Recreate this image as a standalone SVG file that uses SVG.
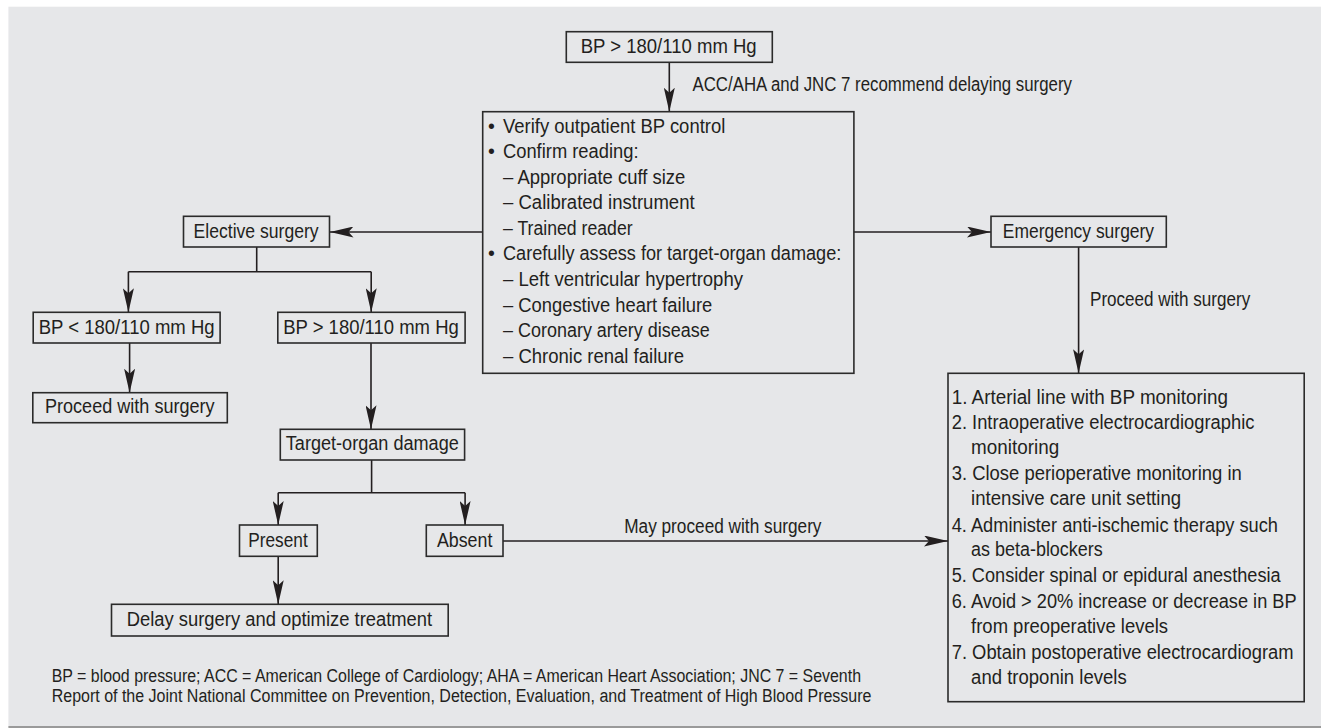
<svg xmlns="http://www.w3.org/2000/svg" width="1321" height="728" viewBox="0 0 1321 728">
<style>
.bg{fill:#e6e7e9}
.box{fill:none;stroke:#2b2b2b;stroke-width:1.6}
.ln{fill:none;stroke:#231f20;stroke-width:1.6}
.arr{fill:none;stroke:#231f20;stroke-width:1.6;marker-end:url(#ah)}
text{font-family:"Liberation Sans",Arial,sans-serif;font-size:19.5px;fill:#231f20}
.fn{font-size:18px}
</style>
<defs>
<marker id="ah" viewBox="0 0 24 11" markerWidth="24" markerHeight="11" refX="24" refY="5.5" orient="auto" markerUnits="userSpaceOnUse">
<path d="M0,0 L24,5.5 L0,11 L5,5.5 z" fill="#231f20"/>
</marker>
</defs>
<rect x="0" y="0" width="1321" height="728" fill="#ffffff"/>
<rect class="bg" x="8.4" y="6.7" width="1312.6" height="719.8"/>
<line x1="8.4" y1="727" x2="1321" y2="727" stroke="#9a9a9a" stroke-width="2"/>

<g id="connectors">
<line class="arr" x1="669.3" y1="62" x2="669.3" y2="111.7"/>
<line class="arr" x1="482.7" y1="232" x2="329.5" y2="232"/>
<line class="arr" x1="853.9" y1="232" x2="991" y2="232"/>
<line class="arr" x1="1078.6" y1="247" x2="1078.6" y2="373.3"/>
<polyline class="ln" points="256.7,247 256.7,271.7"/>
<polyline class="ln" points="128.4,271.7 371.2,271.7"/>
<line class="arr" x1="128.4" y1="271.7" x2="128.4" y2="312.3"/>
<line class="arr" x1="371.2" y1="271.7" x2="371.2" y2="312.3"/>
<line class="arr" x1="129.6" y1="343" x2="129.6" y2="392.7"/>
<line class="arr" x1="371" y1="343" x2="371" y2="429.3"/>
<polyline class="ln" points="371.6,460 371.6,492.7"/>
<polyline class="ln" points="278.2,492.7 465.1,492.7"/>
<line class="arr" x1="278.2" y1="492.7" x2="278.2" y2="525"/>
<line class="arr" x1="465.1" y1="492.7" x2="465.1" y2="525"/>
<line class="arr" x1="278.2" y1="556.3" x2="278.2" y2="604.3"/>
<line class="arr" x1="503" y1="541" x2="948" y2="541"/>
<text x="692.5" y="91" textLength="379.4" lengthAdjust="spacingAndGlyphs">ACC/AHA and JNC 7 recommend delaying surgery</text>
<text x="1090" y="306" textLength="160.2" lengthAdjust="spacingAndGlyphs">Proceed with surgery</text>
<text x="624.2" y="533.3" textLength="197.3" lengthAdjust="spacingAndGlyphs">May proceed with surgery</text>
</g>

<g id="n-top">
<rect class="box" x="566.3" y="31.7" width="206" height="30.6"/>
<text x="580.7" y="53.3" textLength="176" lengthAdjust="spacingAndGlyphs">BP &gt; 180/110 mm Hg</text>
</g>

<g id="n-main">
<rect class="box" x="482.7" y="111.7" width="371.2" height="261.6"/>
<text x="488" y="133.3">•</text>
<text x="503" y="133.3" textLength="222.3" lengthAdjust="spacingAndGlyphs">Verify outpatient BP control</text>
<text x="488" y="157.9">•</text>
<text x="503" y="157.9" textLength="135.5" lengthAdjust="spacingAndGlyphs">Confirm reading:</text>
<text x="503" y="183.5" textLength="182.3" lengthAdjust="spacingAndGlyphs">– Appropriate cuff size</text>
<text x="503" y="209.3" textLength="191.6" lengthAdjust="spacingAndGlyphs">– Calibrated instrument</text>
<text x="503" y="235" textLength="129.6" lengthAdjust="spacingAndGlyphs">– Trained reader</text>
<text x="488" y="260.3">•</text>
<text x="503" y="260.3" textLength="338.3" lengthAdjust="spacingAndGlyphs">Carefully assess for target-organ damage:</text>
<text x="503" y="286" textLength="240" lengthAdjust="spacingAndGlyphs">– Left ventricular hypertrophy</text>
<text x="503" y="311.7" textLength="209.3" lengthAdjust="spacingAndGlyphs">– Congestive heart failure</text>
<text x="503" y="337.3" textLength="206.7" lengthAdjust="spacingAndGlyphs">– Coronary artery disease</text>
<text x="503" y="362.9" textLength="181" lengthAdjust="spacingAndGlyphs">– Chronic renal failure</text>
</g>

<g id="n-elective">
<rect class="box" x="183.5" y="216.3" width="146" height="30.7"/>
<text x="193.6" y="238.3" textLength="125" lengthAdjust="spacingAndGlyphs">Elective surgery</text>
</g>

<g id="n-emergency">
<rect class="box" x="991" y="216.3" width="175.3" height="30.7"/>
<text x="1002.8" y="238.3" textLength="151.3" lengthAdjust="spacingAndGlyphs">Emergency surgery</text>
</g>

<g id="n-bplow">
<rect class="box" x="33.2" y="312.3" width="186.9" height="30.7"/>
<text x="38.7" y="333.5" textLength="175.9" lengthAdjust="spacingAndGlyphs">BP &lt; 180/110 mm Hg</text>
</g>

<g id="n-bphigh">
<rect class="box" x="277.8" y="312.3" width="187.3" height="30.7"/>
<text x="283.2" y="333.5" textLength="175.6" lengthAdjust="spacingAndGlyphs">BP &gt; 180/110 mm Hg</text>
</g>

<g id="n-proceed">
<rect class="box" x="32.8" y="392.7" width="194.5" height="30"/>
<text x="45" y="413" textLength="169.6" lengthAdjust="spacingAndGlyphs">Proceed with surgery</text>
</g>

<g id="n-target">
<rect class="box" x="280.3" y="429.3" width="184.3" height="30.7"/>
<text x="285.8" y="450.3" textLength="173" lengthAdjust="spacingAndGlyphs">Target-organ damage</text>
</g>

<g id="n-present">
<rect class="box" x="239.5" y="525" width="77.8" height="31.3"/>
<text x="248.3" y="546.9" textLength="59.4" lengthAdjust="spacingAndGlyphs">Present</text>
</g>

<g id="n-absent">
<rect class="box" x="426.3" y="525" width="76.7" height="31.3"/>
<text x="436.9" y="546.9" textLength="55.5" lengthAdjust="spacingAndGlyphs">Absent</text>
</g>

<g id="n-delay">
<rect class="box" x="111.5" y="604.3" width="336.7" height="31.7"/>
<text x="126.7" y="626.3" textLength="305.5" lengthAdjust="spacingAndGlyphs">Delay surgery and optimize treatment</text>
</g>

<g id="n-steps">
<rect class="box" x="948" y="373.3" width="356.2" height="328.4"/>
<text x="951.7" y="403.5" textLength="276.2" lengthAdjust="spacingAndGlyphs">1. Arterial line with BP monitoring</text>
<text x="951.7" y="429.2" textLength="302.7" lengthAdjust="spacingAndGlyphs">2. Intraoperative electrocardiographic</text>
<text x="971.1" y="453.5" textLength="88.1" lengthAdjust="spacingAndGlyphs">monitoring</text>
<text x="951.7" y="480.2" textLength="290.1" lengthAdjust="spacingAndGlyphs">3. Close perioperative monitoring in</text>
<text x="971.1" y="505.2" textLength="210" lengthAdjust="spacingAndGlyphs">intensive care unit setting</text>
<text x="951.7" y="531.9" textLength="326.3" lengthAdjust="spacingAndGlyphs">4. Administer anti-ischemic therapy such</text>
<text x="971.1" y="555.9" textLength="131.6" lengthAdjust="spacingAndGlyphs">as beta-blockers</text>
<text x="951.7" y="581.9" textLength="328.9" lengthAdjust="spacingAndGlyphs">5. Consider spinal or epidural anesthesia</text>
<text x="951.7" y="607.5" textLength="344.9" lengthAdjust="spacingAndGlyphs">6. Avoid &gt; 20% increase or decrease in BP</text>
<text x="971.1" y="632.5" textLength="196.9" lengthAdjust="spacingAndGlyphs">from preoperative levels</text>
<text x="951.7" y="658.5" textLength="341.9" lengthAdjust="spacingAndGlyphs">7. Obtain postoperative electrocardiogram</text>
<text x="971.1" y="683.5" textLength="155.6" lengthAdjust="spacingAndGlyphs">and troponin levels</text>
</g>

<g id="footnote">
<text class="fn" x="51.7" y="681.7" textLength="809.3" lengthAdjust="spacingAndGlyphs">BP = blood pressure; ACC = American College of Cardiology; AHA = American Heart Association; JNC 7 = Seventh</text>
<text class="fn" x="51.7" y="702.3" textLength="819.8" lengthAdjust="spacingAndGlyphs">Report of the Joint National Committee on Prevention, Detection, Evaluation, and Treatment of High Blood Pressure</text>
</g>
</svg>
